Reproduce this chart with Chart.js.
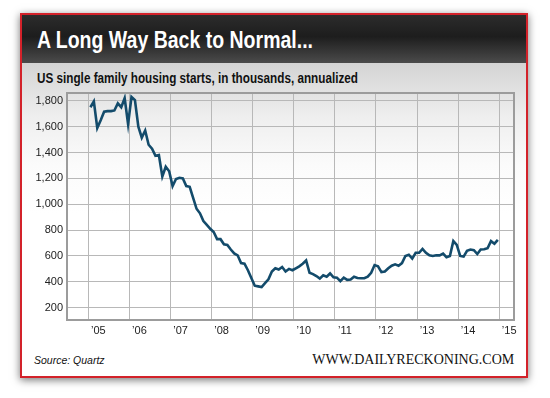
<!DOCTYPE html>
<html><head><meta charset="utf-8">
<script src="https://cdn.jsdelivr.net/npm/chart.js@4"></script>
<style>
html,body{margin:0;padding:0;background:#fff;width:550px;height:398px;overflow:hidden;position:relative;}
#frame{position:absolute;left:20px;top:13px;width:504px;height:361px;border:2px solid #d3222a;box-shadow:0 2px 8px rgba(0,0,0,.55);background:linear-gradient(#d4d4d4 0px,#d4d4d4 48px,#eeeeee 100px,#fbfbfb 150px,#fff 200px,#fff);}
#bar{position:absolute;left:0;top:0;width:504px;height:48px;background:linear-gradient(#2c2c2c,#1d1d1d 45%,#4b4b4b);}
.t{position:absolute;white-space:nowrap;line-height:1;}
#title{left:37px;top:28.8px;color:#fff;font-weight:bold;font-size:23px;font-family:'Liberation Sans',sans-serif;transform-origin:0 0;}
#sub{left:37px;top:70.3px;color:#111;font-weight:bold;font-size:15px;font-family:'Liberation Sans',sans-serif;transform-origin:0 0;}
#src{left:34px;top:355px;color:#111;font-style:italic;font-size:10.5px;font-family:'Liberation Sans',sans-serif;}
#url{right:36px;top:352.4px;color:#111;font-size:15px;font-family:'Liberation Serif',serif;transform-origin:100% 0;}
canvas{position:absolute;left:0;top:0;}
</style></head>
<body>
<div id="frame"><div id="bar"></div></div>
<div class="t" id="title" data-w="276">A Long Way Back to Normal...</div>
<div class="t" id="sub" data-w="321">US single family housing starts, in thousands, annualized</div>
<div class="t" id="src">Source: Quartz</div>
<div class="t" id="url" data-w="202">WWW.DAILYRECKONING.COM</div>
<canvas id="c" width="550" height="398"></canvas>
<script>
const startYear = 2005;
const starts2005 = [1750,1795,1590,1650,1715,1720,1720,1725,1780,1750,1820,1620];
const starts2006 = [1830,1805,1600,1515,1570,1460,1430,1375,1380,1215,1290,1255];
const starts2007 = [1140,1195,1205,1200,1140,1135,1050,965,930,870,840,810];
const starts2008 = [785,730,730,690,685,650,620,605,545,540,490,430];
const starts2009 = [370,365,360,390,420,480,505,495,515,480,500,490];
const starts2010 = [505,520,540,565,470,460,445,425,450,440,465,435];
const starts2011 = [432,405,433,415,418,440,430,428,428,440,470,530];
const starts2012 = [520,475,480,505,525,535,525,545,600,610,580,625];
const starts2013 = [625,655,625,605,600,605,605,618,590,600,715,685];
const starts2014 = [600,595,640,650,645,615,650,652,660,715,695,725];
const xTickValues = [2005,2006,2007,2008,2009,2010,2011,2012,2013,2014,2015];
const xTickLabels = ["\u201905","\u201906","\u201907","\u201908","\u201909","\u201910","\u201911","\u201912","\u201913","\u201914","\u201915"];
const yTickValues = [200,400,600,800,1000,1200,1400,1600,1800];
const yTickLabels = ["200","400","600","800","1,000","1,200","1,400","1,600","1,800"];

document.querySelectorAll('[data-w]').forEach(el=>{
  const w = el.getBoundingClientRect().width;
  el.style.transform = 'scaleX(' + (parseFloat(el.dataset.w)/w) + ')';
});

const monthly = [].concat(starts2005,starts2006,starts2007,starts2008,starts2009,starts2010,starts2011,starts2012,starts2013,starts2014);
const points = monthly.map((v,i)=>({x: startYear + (i+0.6)/12, y: v}));

const frameBorder = {
  id:'frameBorder',
  afterDatasetsDraw(chart){
    const a = chart.chartArea, ctx = chart.ctx;
    ctx.save();
    ctx.strokeStyle = '#9c9c9c';
    ctx.lineWidth = 2;
    ctx.strokeRect(a.left, a.top, a.right-a.left, a.bottom-a.top);
    ctx.restore();
  }
};

new Chart(document.getElementById('c'), {
  type:'line',
  data:{datasets:[{data:points,borderColor:'#134b6b',borderWidth:2.6,pointRadius:0,tension:0,fill:false}]},
  options:{
    responsive:false, animation:false,
    layout:{padding:{left:20,top:93,right:36,bottom:58}},
    plugins:{legend:{display:false},tooltip:{enabled:false}},
    scales:{
      x:{type:'linear',min:2004.48,max:2015.36,
        afterBuildTicks:s=>{s.ticks = xTickValues.map(v=>({value:v}));},
        afterFit:s=>{s.height = 20;},
        grid:{color:'#b8b8b8',lineWidth:1,drawTicks:false},
        border:{display:false},
        ticks:{callback:(v,i)=>xTickLabels[i],labelOffset:10,padding:4,color:'#222',autoSkip:false,maxRotation:0,font:{family:'Liberation Sans',size:11}}},
      y:{type:'linear',min:105,max:1860,
        afterBuildTicks:s=>{s.ticks = yTickValues.map(v=>({value:v}));},
        afterFit:s=>{s.width = 47;},
        grid:{color:'#b8b8b8',lineWidth:1,drawTicks:false},
        border:{display:false},
        ticks:{callback:(v,i)=>yTickLabels[i],padding:4,color:'#222',font:{family:'Liberation Sans',size:11}}}
    }
  },
  plugins:[frameBorder]
});
</script>
</body></html>
